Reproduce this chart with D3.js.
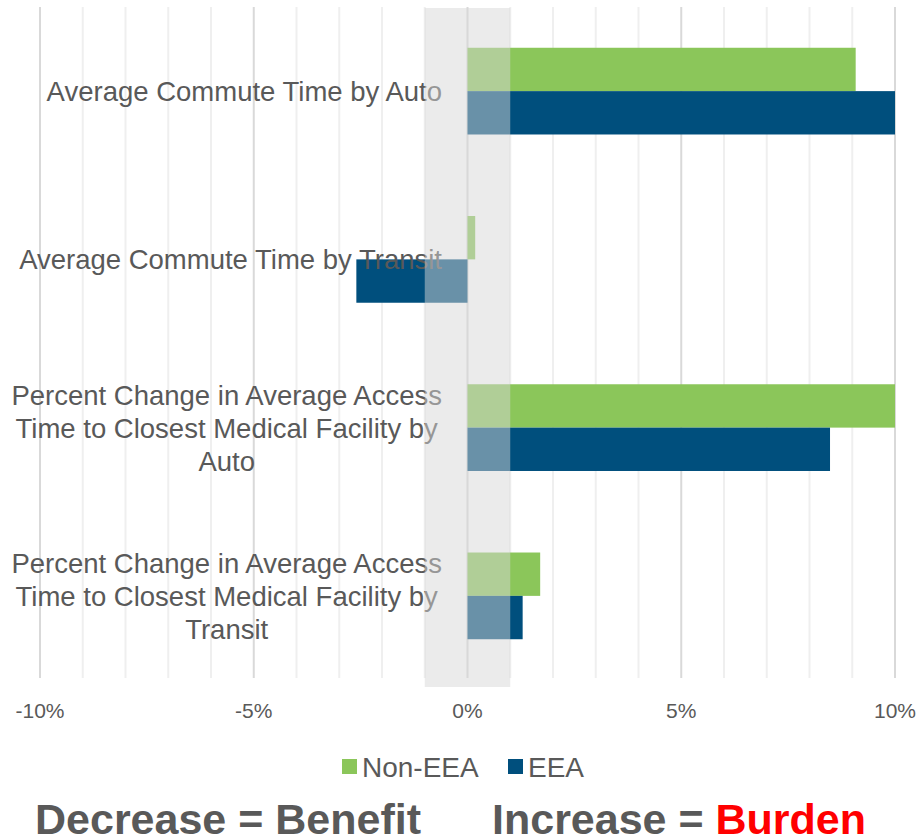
<!DOCTYPE html>
<html>
<head>
<meta charset="utf-8">
<script src="https://cdn.jsdelivr.net/npm/d3@7"></script>
<style>
	body { margin: 0; background: #fff; }
	svg text { font-family: "Liberation Sans", Arial, sans-serif; fill: #595959; }
</style>
</head>
<body>
<svg id="chart" width="920" height="839"></svg>
<script>
// category labels, one entry per line of the wrapped label
var categories = [
	["Average Commute Time by Auto"],
	["Average Commute Time by Transit"],
	["Percent Change in Average Access", "Time to Closest Medical Facility by", "Auto"],
	["Percent Change in Average Access", "Time to Closest Medical Facility by", "Transit"]
];
var seriesNames = ["Non-EEA", "EEA"];
var seriesColors = ["#8bc65a", "#004f7d"];

// percent change
var nonEeaValues = [9.08, 0.18, 10.0, 1.7];
var eeaValues = [10.0, -2.6, 8.48, 1.29];

var xTicks = [-10, -5, 0, 5, 10];
var xMinorTicks = d3.range(-10, 11, 1);
var neutralBand = [-1, 1];

var svg = d3.select("#chart");

var x = d3.scaleLinear().domain([-10, 10]).range([40, 895]);
var y0 = d3.scaleBand().domain(d3.range(categories.length)).range([7, 680]);
var y1 = d3.scaleBand().domain(seriesNames).range([0, y0.bandwidth()]).paddingInner(0).paddingOuter(0.94);

var plotTop = y0.range()[0];
var plotBottom = y0.range()[1];

// gridlines
svg.append("g").selectAll("line")
	.data(xMinorTicks)
	.enter().append("line")
	.attr("x1", function(d) { return x(d); })
	.attr("x2", function(d) { return x(d); })
	.attr("y1", plotTop)
	.attr("y2", plotBottom - 2)
	.attr("stroke", function(d) { return d % 5 === 0 ? "#d9d9d9" : "#efefef"; })
	.attr("stroke-width", 2);

// bars
var rows = categories.map(function(c, i) {
	return { index: i, values: [nonEeaValues[i], eeaValues[i]] };
});

var groups = svg.append("g").selectAll("g")
	.data(rows)
	.enter().append("g")
	.attr("transform", function(d) { return "translate(0," + y0(d.index) + ")"; });

groups.selectAll("rect")
	.data(function(d) {
		return d.values.map(function(v, j) { return { series: seriesNames[j], value: v, color: seriesColors[j] }; });
	})
	.enter().append("rect")
	.attr("x", function(d) { return x(Math.min(0, d.value)); })
	.attr("width", function(d) { return Math.abs(x(d.value) - x(0)); })
	.attr("y", function(d) { return y1(d.series); })
	.attr("height", y1.bandwidth())
	.attr("fill", function(d) { return d.color; });

// category labels, lines centred within the label block, block right-aligned
var labelRight = 442;
var lineHeight = 33;
categories.forEach(function(lines, i) {
	var cy = y0(i) + y0.bandwidth() / 2;
	var text = svg.append("text")
		.attr("text-anchor", "middle")
		.style("font-size", "27.5px");
	var spans = lines.map(function(line, k) {
		return text.append("tspan")
			.attr("y", cy + (k - (lines.length - 1) / 2) * lineHeight + 10)
			.text(line);
	});
	var maxW = d3.max(spans, function(s) { return s.node().getComputedTextLength(); });
	spans.forEach(function(s) { s.attr("x", labelRight - maxW / 2); });
});

// neutral band drawn over bars and labels
svg.append("rect")
	.attr("x", x(neutralBand[0]))
	.attr("width", x(neutralBand[1]) - x(neutralBand[0]))
	.attr("y", plotTop + 1)
	.attr("height", 687 - plotTop - 1)
	.attr("fill", "rgb(215,215,215)")
	.attr("fill-opacity", 0.49);

// x axis tick labels
svg.append("g").selectAll("text")
	.data(xTicks)
	.enter().append("text")
	.attr("x", function(d) { return x(d); })
	.attr("y", 718)
	.attr("text-anchor", "middle")
	.style("font-size", "21px")
	.text(function(d) { return d + "%"; });

// legend
var legendItems = [{ x: 342 }, { x: 508 }];
var legend = svg.append("g").selectAll("g")
	.data(seriesNames)
	.enter().append("g")
	.attr("transform", function(d, i) { return "translate(" + legendItems[i].x + ",0)"; });
legend.append("rect")
	.attr("y", 759)
	.attr("width", 15)
	.attr("height", 15)
	.attr("fill", function(d, i) { return seriesColors[i]; });
legend.append("text")
	.attr("x", 20)
	.attr("y", 777)
	.style("font-size", "28px")
	.text(function(d) { return d; });

// footer
svg.append("text")
	.attr("x", 35)
	.attr("y", 834)
	.style("font-size", "43px")
	.style("font-weight", "bold")
	.text("Decrease = Benefit");

var foot = svg.append("text")
	.attr("x", 492)
	.attr("y", 834)
	.style("font-size", "43px")
	.style("font-weight", "bold");
foot.append("tspan").text("Increase = ");
foot.append("tspan").style("fill", "#ff0000").text("Burden");
</script>
</body>
</html>
